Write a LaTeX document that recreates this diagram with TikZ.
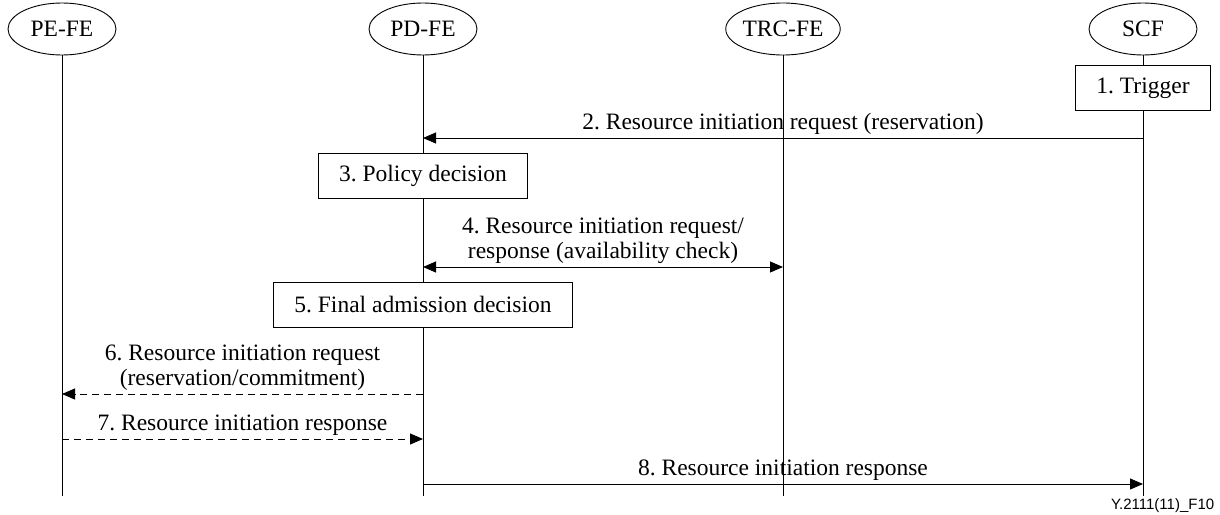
\documentclass[tikz,border=0pt]{standalone}
\usepackage{fontspec}
\setmainfont{Liberation Serif}
\setsansfont{Liberation Sans}
\usetikzlibrary{arrows.meta,shapes.geometric,positioning}
\frenchspacing

\begin{document}
\begin{tikzpicture}[x=1pt,y=-1pt,>={Triangle[length=13pt,width=11pt]},line width=0.9pt,
		font=\fontsize{23.5}{25}\selectfont,
		fe/.style={ellipse,draw,minimum width=108pt,minimum height=52pt,inner sep=0pt},
		action/.style={draw,fill=white,minimum height=45pt,inner xsep=21pt},
		lbl/.style={above,inner sep=3pt,align=center},
		msgdash/.style={dash pattern=on 7pt off 5pt}]
		\useasboundingbox (0,0) rectangle (1220,514);
		\node[fe] (pe) at (62,29) {PE-FE};
		\node[fe] (pd) at (423,29) {PD-FE};
		\node[fe] (trc) at (783,29) {TRC-FE};
		\node[fe] (scf) at (1143,29) {SCF};
		\coordinate (bottom) at (0,496);
		\foreach \fe in {pe,pd,trc,scf}
			\draw (\fe.south) -- (\fe.south |- bottom);
		% actions on the lifelines
		\node[action] (trigger) at (1143,88) {1. Trigger};
		\node[action] (policy) at (423,176) {3. Policy decision};
		\node[action] (final) at (423,304.5) {5. Final admission decision};
		% message levels
		\coordinate (m2) at (0,138);
		\coordinate (m4) at (0,267);
		\coordinate (m6) at (0,394);
		\coordinate (m7) at (0,439);
		\coordinate (m8) at (0,484);
		\path[->]
			(scf |- m2) edge node[lbl] {2. Resource initiation request (reservation)} (pd |- m2)
			(pd |- m4) edge[<->] node[lbl] {4. Resource initiation request/\\response (availability check)} (trc |- m4)
			(pd |- m6) edge[msgdash] node[lbl] {6. Resource initiation request\\(reservation/commitment)} (pe |- m6)
			(pe |- m7) edge[msgdash] node[lbl] {7. Resource initiation response} (pd |- m7)
			(pd |- m8) edge node[lbl] {8. Resource initiation response} (scf |- m8);
		\node[anchor=east,font=\sffamily\fontsize{15}{18}\selectfont] (figid) at (1218,506) {Y.2111(11)\_F10};
	\end{tikzpicture}
\end{document}
